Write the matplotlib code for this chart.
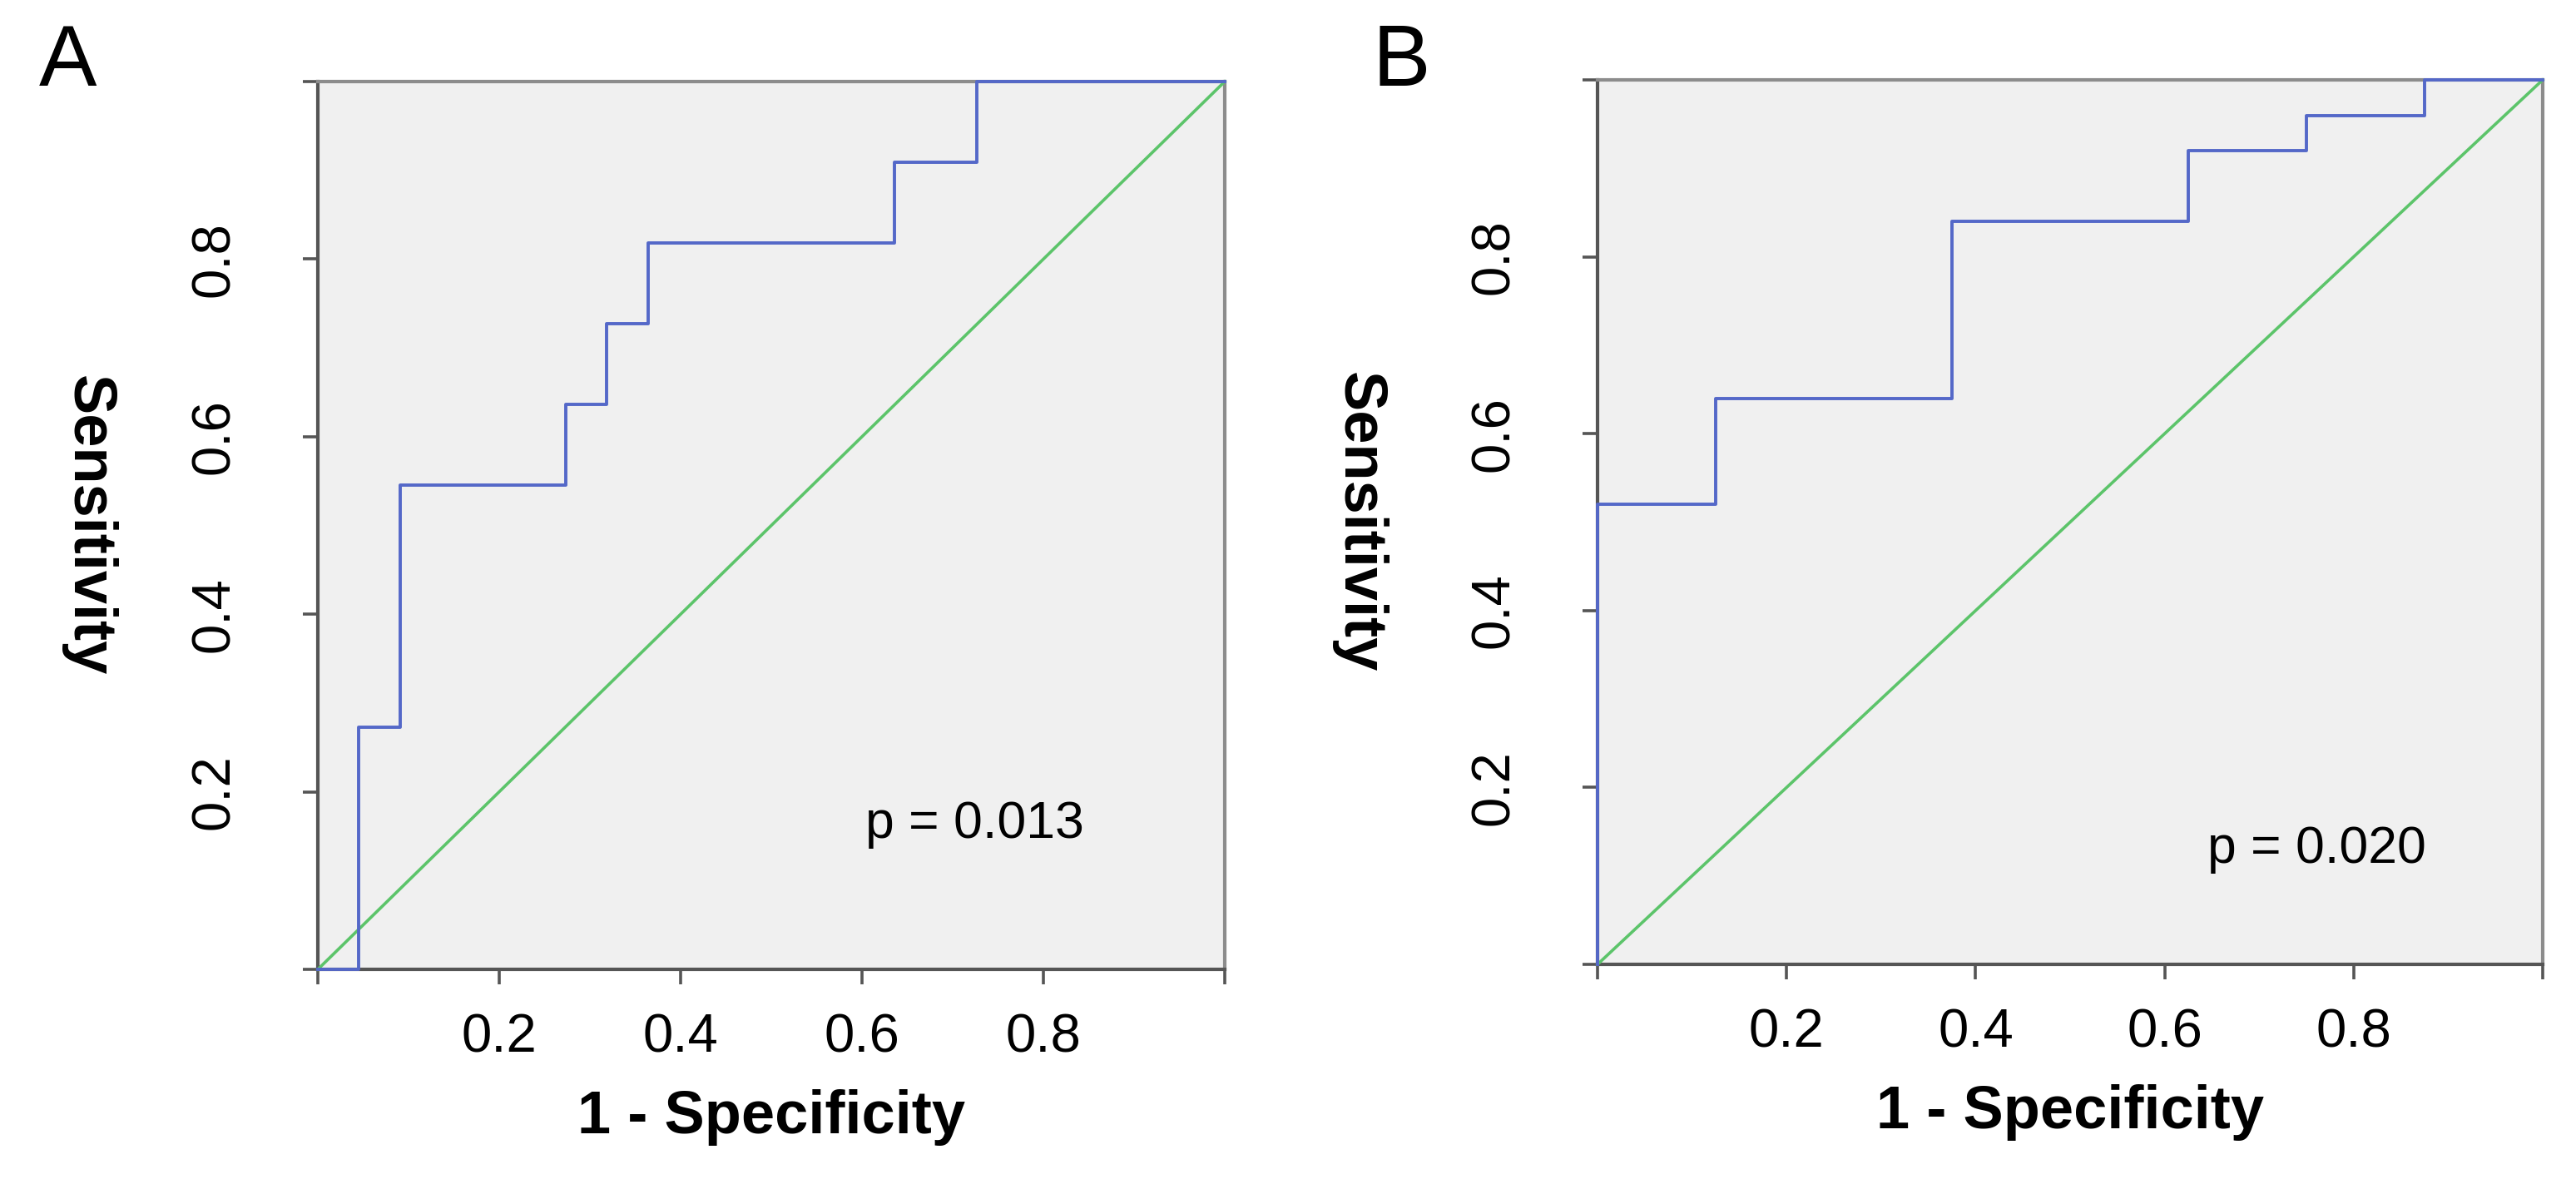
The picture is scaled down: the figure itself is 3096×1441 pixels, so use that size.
"""Two ROC curves (panels A and B) with chance diagonal."""

import matplotlib
matplotlib.use("Agg")
import matplotlib.pyplot as plt

plt.rcParams["font.family"] = ["Liberation Sans", "DejaVu Sans"]

# panel A: step points
fpr_a = [0.0, 0.045, 0.045, 0.091, 0.091, 0.273, 0.273, 0.318, 0.318,
         0.364, 0.364, 0.636, 0.636, 0.727, 0.727, 1.0]
tpr_a = [0.0, 0.0, 0.273, 0.273, 0.545, 0.545, 0.636, 0.636, 0.727,
         0.727, 0.818, 0.818, 0.909, 0.909, 1.0, 1.0]

# panel B
fpr_b = [0.0, 0.0, 0.125, 0.125, 0.375, 0.375, 0.625, 0.625, 0.75,
         0.75, 0.875, 0.875, 1.0]
tpr_b = [0.0, 0.52, 0.52, 0.64, 0.64, 0.84, 0.84, 0.92, 0.92,
         0.96, 0.96, 1.0, 1.0]

tick_vals = [0.0, 0.2, 0.4, 0.6, 0.8, 1.0]
tick_text = ["", "0.2", "0.4", "0.6", "0.8", ""]

p_labels = ["p = 0.013", "p = 0.020"]
panel_letters = ["A", "B"]

W, H = 3096, 1441
DPI = 100


def px_rect(left, top, right, bottom):
    return [left / W, 1 - bottom / H, (right - left) / W, (bottom - top) / H]


def plot_roc(ax, fpr, tpr, p_text, p_pos):
    ax.set_facecolor("#f0f0f0")
    ax.plot([0, 1], [0, 1], color="#5cc46a", lw=2.6, zorder=3, clip_on=False)
    ax.plot(fpr, tpr, color="#5468c8", lw=2.8, zorder=4, clip_on=False)
    ax.set_xlim(0, 1)
    ax.set_ylim(0, 1)

    for side in ("left", "bottom"):
        ax.spines[side].set_color("#555555")
        ax.spines[side].set_linewidth(3.0)
    for side in ("top", "right"):
        ax.spines[side].set_color("#8c8c8c")
        ax.spines[side].set_linewidth(3.0)

    ax.set_xticks(tick_vals)
    ax.set_xticklabels(tick_text)
    ax.set_yticks(tick_vals)
    ax.set_yticklabels(tick_text, rotation=90, va="center")
    ax.tick_params(axis="both", direction="out", length=13, width=2.6,
                   color="#555555", labelsize=47)
    ax.tick_params(axis="x", pad=25)
    ax.tick_params(axis="y", pad=55)

    ax.set_xlabel("1 - Specificity", fontsize=52, fontweight="bold", va="top")
    ax.xaxis.set_label_coords(0.5, -0.135)
    ax.set_ylabel("Sensitivity", fontsize=52, fontweight="bold",
                  rotation=270, va="center", ha="center")
    ax.yaxis.set_label_coords(-0.253, 0.5)

    ax.text(p_pos[0], p_pos[1], p_text, transform=ax.transAxes,
            fontsize=45, ha="left", va="baseline")


fig = plt.figure(figsize=(W / DPI, H / DPI), dpi=DPI)

ax_a = fig.add_axes(px_rect(382, 98, 1472, 1165))
plot_roc(ax_a, fpr_a, tpr_a, p_labels[0], (0.604, 0.148))

ax_b = fig.add_axes(px_rect(1920, 96, 3056, 1159))
plot_roc(ax_b, fpr_b, tpr_b, p_labels[1], (0.645, 0.115))

fig.text(47 / W, 1 - 103 / H, panel_letters[0], fontsize=75, ha="left", va="baseline")
fig.text(1650 / W, 1 - 103 / H, panel_letters[1], fontsize=75, ha="left", va="baseline")

fig.savefig("out.png", dpi=DPI)
